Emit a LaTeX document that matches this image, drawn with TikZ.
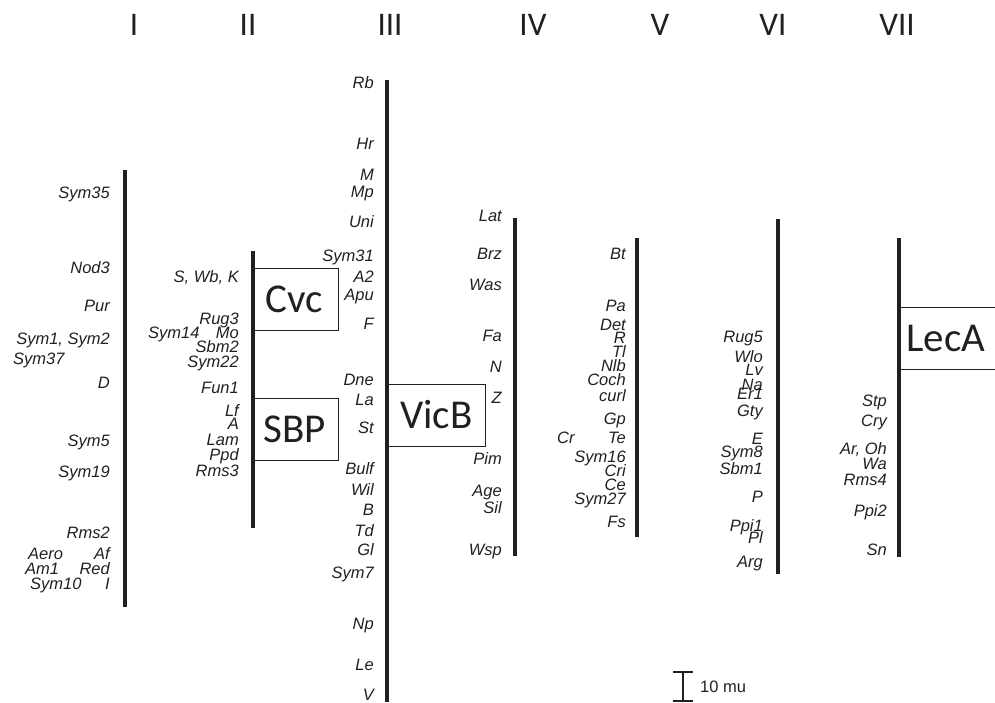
\documentclass[tikz,border=0pt]{standalone}
\usepackage{fontspec}
\setmainfont{Liberation Sans}
\newfontfamily\carlito{Carlito}
\definecolor{ink}{HTML}{231F20}
\newcommand{\labfont}{\fontsize{16.5}{18}\selectfont\itshape}
\tikzset{
  lab/.style={font=\labfont, inner sep=0pt, anchor=base east, text=ink},
  labw/.style={font=\labfont, inner sep=0pt, anchor=base west, text=ink},
  roman/.style={font=\carlito\fontsize{33}{36}\selectfont, inner sep=0pt, anchor=base, text=ink},
  chrom/.style={line width=4pt, draw=ink},
  qtlbox/.style={draw=ink, line width=1pt, inner sep=0pt, font=\carlito\fontsize{41}{44}\selectfont, text=ink}
}
\begin{document}
\begin{tikzpicture}[x=1pt,y=-1pt]
\useasboundingbox (0,0) rectangle (995,702);
% roman numerals
\node[roman] (rI) at (134,35) {I};
\node[roman] (rII) at (248,35) {II};
\node[roman] (rIII) at (390,35) {III};
\node[roman] (rIV) at (533,35) {IV};
\node[roman] (rV) at (660,35) {V};
\node[roman] (rVI) at (773,35) {VI};
\node[roman] (rVII) at (897,35) {VII};
% chromosome ends
\coordinate (t1) at (125,170); \coordinate (b1) at (125,607);
\coordinate (t2) at (253,251); \coordinate (b2) at (253,528);
\coordinate (t3) at (387,80);  \coordinate (b3) at (387,702);
\coordinate (t4) at (515,218); \coordinate (b4) at (515,556);
\coordinate (t5) at (637,238); \coordinate (b5) at (637,537);
\coordinate (t6) at (778,219); \coordinate (b6) at (778,574);
\coordinate (t7) at (899,238); \coordinate (b7) at (899,557);
% boxes
\node[qtlbox, minimum width=87pt, minimum height=62pt] (cvc) at (294.5,299) {Cvc};
\node[qtlbox, minimum width=87pt, minimum height=62pt] (sbp) at (294.5,429) {SBP};
\node[qtlbox, minimum width=97pt, minimum height=62pt] (vicb) at (436.5,415) {VicB};
\coordinate (lt1) at (899,307); \coordinate (lt2) at (995,307);
\coordinate (lb1) at (899,369); \coordinate (lb2) at (995,369);
\draw[draw=ink, line width=1pt] (lt1) -- (lt2) (lb1) -- (lb2);
\node[font=\carlito\fontsize{41}{44}\selectfont, text=ink, inner sep=0pt] (leca) at (946,338) {LecA};
% chromosomes
\draw[chrom] (t1) -- (b1);
\draw[chrom] (t2) -- (b2);
\draw[chrom] (t3) -- (b3);
\draw[chrom] (t4) -- (b4);
\draw[chrom] (t5) -- (b5);
\draw[chrom] (t6) -- (b6);
\draw[chrom] (t7) -- (b7);
% Column I
\node[lab] (a1) at (110,198) {Sym35};
\node[lab] (a2) at (110,273) {Nod3};
\node[lab] (a3) at (110,311) {Pur};
\node[lab] (a4) at (110,344) {Sym1, Sym2};
\node[labw] (a5) at (13,364) {Sym37};
\node[lab] (a6) at (110,388) {D};
\node[lab] (a7) at (110,446) {Sym5};
\node[lab] (a8) at (110,477) {Sym19};
\node[lab] (a9) at (110,538) {Rms2};
\node[labw] (a10) at (28,559) {Aero};
\node[lab] (a11) at (110,559) {Af};
\node[labw] (a12) at (25,574) {Am1};
\node[lab] (a13) at (110,574) {Red};
\node[labw] (a14) at (30,589) {Sym10};
\node[lab] (a15) at (110,589) {I};
% Column II
\node[lab] (b1l) at (239,282) {S, Wb, K};
\node[lab] (b2l) at (239,324) {Rug3};
\node[labw] (b3l) at (148,338) {Sym14};
\node[lab] (b4l) at (239,338) {Mo};
\node[lab] (b5l) at (239,352) {Sbm2};
\node[lab] (b6l) at (239,367) {Sym22};
\node[lab] (b7l) at (239,393) {Fun1};
\node[lab] (b8l) at (239,416) {Lf};
\node[lab] (b9l) at (239,429) {A};
\node[lab] (b10l) at (239,445) {Lam};
\node[lab] (b11l) at (239,460) {Ppd};
\node[lab] (b12l) at (239,476) {Rms3};
% Column III
\node[lab] (c1) at (374,88) {Rb};
\node[lab] (c2) at (374,149) {Hr};
\node[lab] (c3) at (374,180) {M};
\node[lab] (c4) at (374,197) {Mp};
\node[lab] (c5) at (374,227) {Uni};
\node[lab] (c6) at (374,261) {Sym31};
\node[lab] (c7) at (374,282) {A2};
\node[lab] (c8) at (374,300) {Apu};
\node[lab] (c9) at (374,329) {F};
\node[lab] (c10) at (374,385) {Dne};
\node[lab] (c11) at (374,405) {La};
\node[lab] (c12) at (374,433) {St};
\node[lab] (c13) at (374,474) {Bulf};
\node[lab] (c14) at (374,495) {Wil};
\node[lab] (c15) at (374,515) {B};
\node[lab] (c16) at (374,536) {Td};
\node[lab] (c17) at (374,555) {Gl};
\node[lab] (c18) at (374,578) {Sym7};
\node[lab] (c19) at (374,629) {Np};
\node[lab] (c20) at (374,670) {Le};
\node[lab] (c21) at (374,700) {V};
% Column IV
\node[lab] (d1) at (502,221) {Lat};
\node[lab] (d2) at (502,259) {Brz};
\node[lab] (d3) at (502,290) {Was};
\node[lab] (d4) at (502,341) {Fa};
\node[lab] (d5) at (502,372) {N};
\node[lab] (d6) at (502,403) {Z};
\node[lab] (d7) at (502,464) {Pim};
\node[lab] (d8) at (502,496) {Age};
\node[lab] (d9) at (502,513) {Sil};
\node[lab] (d10) at (502,555) {Wsp};
% Column V
\node[lab] (e1) at (626,259) {Bt};
\node[lab] (e2) at (626,311) {Pa};
\node[lab] (e3) at (626,330) {Det};
\node[lab] (e4) at (626,343) {R};
\node[lab] (e5) at (626,357) {Tl};
\node[lab] (e6) at (626,371) {Nlb};
\node[lab] (e7) at (626,385) {Coch};
\node[lab] (e8) at (626,401) {curl};
\node[lab] (e9) at (626,424) {Gp};
\node[labw] (e10) at (557,443) {Cr};
\node[lab] (e11) at (626,443) {Te};
\node[lab] (e12) at (626,462) {Sym16};
\node[lab] (e13) at (626,476) {Cri};
\node[lab] (e14) at (626,490) {Ce};
\node[lab] (e15) at (626,504) {Sym27};
\node[lab] (e16) at (626,527) {Fs};
% Column VI
\node[lab] (f1) at (763,342) {Rug5};
\node[lab] (f2) at (763,362) {Wlo};
\node[lab] (f3) at (763,375) {Lv};
\node[lab] (f4) at (763,390) {Na};
\node[lab] (f5) at (763,399) {Er1};
\node[lab] (f6) at (763,416) {Gty};
\node[lab] (f7) at (763,444) {E};
\node[lab] (f8) at (763,457) {Sym8};
\node[lab] (f9) at (763,474) {Sbm1};
\node[lab] (f10) at (763,502) {P};
\node[lab] (f11) at (763,531) {Ppi1};
\node[lab] (f12) at (763,543) {Pl};
\node[lab] (f13) at (763,567) {Arg};
% Column VII
\node[lab] (g1) at (887,406) {Stp};
\node[lab] (g2) at (887,426) {Cry};
\node[lab] (g3) at (887,454) {Ar, Oh};
\node[lab] (g4) at (887,469) {Wa};
\node[lab] (g5) at (887,485) {Rms4};
\node[lab] (g6) at (887,516) {Ppi2};
\node[lab] (g7) at (887,555) {Sn};
% scale bar
\coordinate (sb1) at (683,672); \coordinate (sb2) at (683,701);
\coordinate (sl1) at (673,672); \coordinate (sr1) at (693,672);
\coordinate (sl2) at (673,701); \coordinate (sr2) at (693,701);
\draw[draw=ink, line width=1.5pt] (sb1) -- (sb2) (sl1) -- (sr1) (sl2) -- (sr2);
\node[font=\fontsize{16.5}{18}\selectfont, inner sep=0pt, anchor=base west, text=ink] (scl) at (700,692) {10 mu};
\end{tikzpicture}
\end{document}
